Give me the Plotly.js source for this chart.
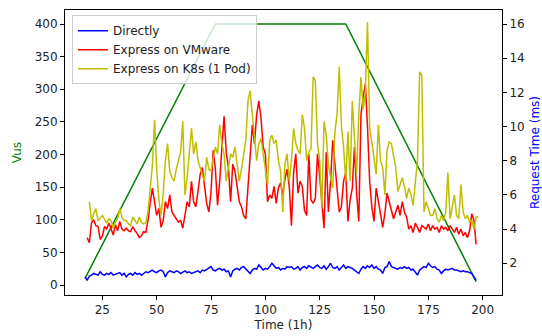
<!DOCTYPE html>
<html>
<head>
<meta charset="utf-8">
<script src="https://cdn.plot.ly/plotly-3.0.1.min.js"></script>
<style>html,body{margin:0;padding:0;background:#fff;}#chart{width:542px;height:336px;}</style>
</head>
<body>
<div id="chart"></div>
<script>
// Vus (left axis) vertices
const vusTime = [17, 77, 137, 197];
const vusValues = [10, 400, 400, 5];

// Request time series (right axis, ms)
const directStart = 17;
const directValues = [
1.2,1.0,1.25,1.3,1.4,1.35,1.3,1.5,1.35,1.3,1.4,1.35,1.45,1.3,1.35,1.4,1.45,1.3,1.4,1.2,
1.35,1.4,1.3,1.45,1.35,1.4,1.3,1.4,1.5,1.45,1.55,1.6,1.5,1.45,1.55,1.6,1.5,1.2,1.45,1.55,
1.5,1.45,1.55,1.5,1.4,1.5,1.55,1.45,1.5,1.4,1.45,1.5,1.55,1.45,1.6,1.55,1.65,1.7,1.8,1.6,
1.55,1.65,1.7,1.6,1.65,1.5,1.55,1.2,1.55,1.65,1.7,1.6,1.75,1.8,1.65,1.5,1.4,1.6,1.7,1.65,
1.9,1.75,1.6,1.7,1.65,1.8,2.0,1.85,1.7,1.75,1.6,1.7,1.65,1.8,1.75,1.8,1.65,1.7,1.8,1.6,
1.75,1.8,1.7,1.85,1.75,1.7,1.8,1.9,1.75,1.7,1.85,1.65,1.8,2.0,1.75,1.7,1.8,1.6,1.75,1.9,
1.7,1.8,1.75,1.7,1.6,1.5,1.4,1.65,1.8,1.7,1.85,1.75,1.9,1.7,1.8,1.65,1.6,1.4,1.75,1.8,
2.1,1.8,1.75,1.7,1.65,1.75,1.7,1.8,1.7,1.75,1.6,1.65,1.5,1.3,1.6,1.7,1.8,1.75,2.0,1.85,
1.75,1.8,1.65,1.6,1.4,1.55,1.65,1.6,1.65,1.7,1.6,1.6,1.55,1.5,1.55,1.5,1.5,1.45,1.4,1.2,1.0
];

const vmwareStart = 18;
const vmwareValues = [
3.5,3.2,4.35,4.55,4.2,4.15,3.4,3.6,4.15,4.0,4.35,3.95,3.65,4.25,3.9,4.45,4.0,3.9,4.05,3.9,
3.85,4.15,3.9,3.75,3.5,3.6,3.85,3.8,4.5,5.5,6.4,5.6,4.8,5.2,4.1,4.5,5.6,5.2,6.0,5.0,
4.8,4.6,4.4,4.5,4.05,4.8,5.6,5.3,6.8,5.6,5.3,6.2,7.2,7.6,6.5,5.5,5.0,6.2,8.6,7.5,
5.4,6.8,8.8,10.6,8.5,7.6,5.6,7.8,7.4,6.4,5.6,5.3,4.8,4.6,6.5,8.4,10.1,9.0,10.7,11.5,
10.5,8.8,8.4,5.6,6.0,5.8,6.5,5.5,6.4,6.7,6.0,6.9,7.5,6.5,4.2,7.3,8.4,6.1,6.8,6.5,
5.1,4.8,8.4,5.7,5.5,5.8,8.4,7.1,5.6,4.05,8.5,5.0,6.8,9.2,7.8,6.3,5.0,5.3,6.8,7.3,
4.45,5.7,6.4,8.8,6.1,4.45,10.7,11.7,12.5,10.0,6.8,5.3,4.45,6.4,5.6,4.8,4.1,4.9,6.1,5.6,
5.0,4.6,5.0,5.4,4.8,5.6,5.0,4.7,4.0,4.2,3.8,4.35,4.1,3.8,4.2,4.1,4.0,4.3,3.9,4.2,
4.0,4.1,3.8,4.2,4.0,4.1,3.9,4.2,4.0,3.8,4.1,3.7,4.0,3.6,3.8,3.5,3.9,4.9,4.5,3.1
];

const k8sStart = 19;
const k8sValues = [
5.6,4.5,4.9,5.2,4.5,4.6,4.8,4.6,4.35,4.6,4.5,4.05,4.4,4.6,5.2,4.7,4.5,4.5,4.3,4.2,
4.7,4.5,4.3,4.7,4.4,4.3,4.35,5.0,6.3,7.7,10.4,7.5,5.7,4.8,6.1,8.0,9.0,7.4,7.0,6.8,
7.5,8.0,8.5,10.3,6.0,7.0,8.5,9.9,8.4,9.1,8.0,7.6,7.2,6.8,8.2,7.5,7.4,8.0,8.8,8.4,
10.1,9.0,8.4,6.8,7.5,8.4,8.2,8.8,7.8,6.8,7.5,8.5,9.2,11.5,12.1,10.7,9.5,8.0,9.0,9.3,
8.4,7.5,6.6,9.2,9.5,9.0,9.2,8.0,7.4,5.0,7.8,8.4,6.8,8.0,9.9,9.0,8.6,8.4,10.7,9.9,
8.0,8.5,8.7,12.9,12.7,9.0,8.0,5.2,10.3,9.5,7.8,7.0,6.4,9.7,10.7,13.5,10.0,8.8,6.8,9.7,
6.8,11.5,9.0,7.2,10.7,12.9,11.0,12.0,16.1,9.9,9.1,8.0,7.2,10.1,8.0,7.6,6.0,8.6,9.1,9.0,
8.4,7.6,6.2,6.6,7.0,6.5,5.8,6.4,6.0,5.4,6.8,8.0,13.2,13.0,5.0,5.6,5.2,4.8,4.8,5.2,
4.6,4.4,4.8,4.5,5.0,7.3,4.6,5.4,6.0,4.8,4.6,6.6,5.0,4.6,4.8,4.4,4.5,4.0,4.7,4.7
];

function timeAxis(start, n) { const t = []; for (let i = 0; i < n; i++) t.push(start + i); return t; }

const seriesNames = ['Directly', 'Express on VMware', 'Express on K8s (1 Pod)'];
const seriesColors = ['#0000ff', '#ff0000', '#bfbf00'];

const FONT = 'DejaVu Sans, sans-serif';
const traces = [
  {x: vusTime, y: vusValues, mode: 'lines', line: {color: '#008000', width: 1.5}, showlegend: false, yaxis: 'y', hoverinfo: 'skip'},
  {x: timeAxis(directStart, directValues.length), y: directValues, name: seriesNames[0], mode: 'lines', line: {color: seriesColors[0], width: 1.5}, yaxis: 'y2'},
  {x: timeAxis(vmwareStart, vmwareValues.length), y: vmwareValues, name: seriesNames[1], mode: 'lines', line: {color: seriesColors[1], width: 1.5}, yaxis: 'y2'},
  {x: timeAxis(k8sStart, k8sValues.length), y: k8sValues, name: seriesNames[2], mode: 'lines', line: {color: seriesColors[2], width: 1.5}, yaxis: 'y2'}
];

const axisCommon = {showline: true, linecolor: '#000', linewidth: 1, ticks: 'outside', ticklen: 4, tickcolor: '#000', showgrid: false, zeroline: false, tickfont: {family: FONT, size: 12, color: '#222'}};

const layout = {
  width: 542, height: 336,
  margin: {l: 65, r: 40, t: 10, b: 41},
  paper_bgcolor: '#fff', plot_bgcolor: '#fff',
  font: {family: FONT, size: 12, color: '#222'},
  xaxis: Object.assign({}, axisCommon, {range: [7.8, 208.9], tickvals: [25, 50, 75, 100, 125, 150, 175, 200], mirror: true,
    title: {text: 'Time (1h)', font: {family: FONT, size: 12, color: '#222'}, standoff: 4}}),
  yaxis: Object.assign({}, axisCommon, {range: [-15.3, 421.5], tickvals: [0, 50, 100, 150, 200, 250, 300, 350, 400],
    title: {text: 'Vus', font: {family: FONT, size: 12, color: '#008000'}, standoff: 10}}),
  yaxis2: Object.assign({}, axisCommon, {range: [0.14, 16.82], tickvals: [2, 4, 6, 8, 10, 12, 14, 16], overlaying: 'y', side: 'right', anchor: 'x',
    title: {text: 'Request Time (ms)', font: {family: FONT, size: 12, color: '#0000ff'}, standoff: 8}}),
  legend: {x: 0.016, y: 0.982, xanchor: 'left', yanchor: 'top', bgcolor: 'rgba(255,255,255,0.8)', bordercolor: '#cccccc', borderwidth: 1,
    font: {family: FONT, size: 12, color: '#222'}, itemwidth: 30, tracegroupgap: 0},
  showlegend: true
};

Plotly.newPlot('chart', traces, layout, {staticPlot: true, displayModeBar: false});
</script>
</body>
</html>
